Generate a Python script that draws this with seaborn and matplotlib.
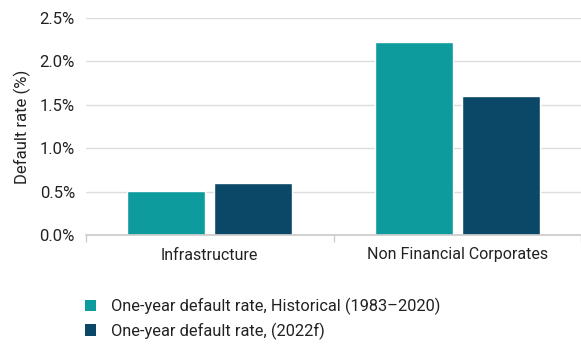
import matplotlib
matplotlib.use("Agg")
import matplotlib.pyplot as plt
import seaborn as sns
import pandas as pd
from matplotlib.ticker import FuncFormatter, FixedLocator
from matplotlib.patches import Patch

categories = ["Infrastructure", "Non Financial Corporates"]
series_names = ["One-year default rate, Historical (1983\u20132020)",
                "One-year default rate, (2022f)"]
historical = [0.51, 2.22]
forecast = [0.60, 1.60]
colors = ["#0E9B9E", "#0B4767"]

df = pd.DataFrame({
    "category": categories * 2,
    "series": [series_names[0]] * 2 + [series_names[1]] * 2,
    "value": historical + forecast,
})

sns.set_theme(style="white")
plt.rcParams["font.family"] = ["Roboto", "DejaVu Sans"]

fig = plt.figure(figsize=(5.81, 3.45), dpi=100)
ax = fig.add_axes([86/581, 110/345, (581-86)/581, (235-18)/345])

sns.barplot(data=df, x="category", y="value", hue="series", order=categories,
            hue_order=series_names, palette=colors, width=0.7, gap=0.1,
            saturation=1, ax=ax, legend=False)

ax.set_xlim(-0.5, 1.5)
ax.set_ylim(0, 2.5)
ax.set_yticks([0, 0.5, 1.0, 1.5, 2.0, 2.5])
ax.yaxis.set_major_formatter(FuncFormatter(lambda v, p: f"{v:.1f}%"))
ax.grid(axis="y", color="#DDDDDD", linewidth=1)
ax.set_axisbelow(True)
for s in ["top", "right", "left"]:
    ax.spines[s].set_visible(False)
ax.spines["bottom"].set_color("#CCCCCC")
ax.xaxis.set_minor_locator(FixedLocator([-0.5, 0.5, 1.5]))
ax.tick_params(axis="x", which="major", length=0, pad=9, labelsize=11.5, labelcolor="#222222")
ax.tick_params(axis="x", which="minor", length=5, color="#CCCCCC", bottom=True)
ax.tick_params(axis="y", length=0, pad=8, labelsize=12, labelcolor="#222222")
ax.set_xlabel("")
ax.set_ylabel("Default rate (%)", fontsize=12, color="#222222", labelpad=6)

handles = [Patch(facecolor=c, edgecolor="none") for c in colors]
fig.legend(handles, series_names, loc="lower left", bbox_to_anchor=(70/581, -0.027),
           frameon=False, fontsize=11.75, handlelength=0.7, handleheight=0.7,
           handletextpad=0.9, labelspacing=0.45, labelcolor="#222222")

fig.savefig("out.png", dpi=100)
